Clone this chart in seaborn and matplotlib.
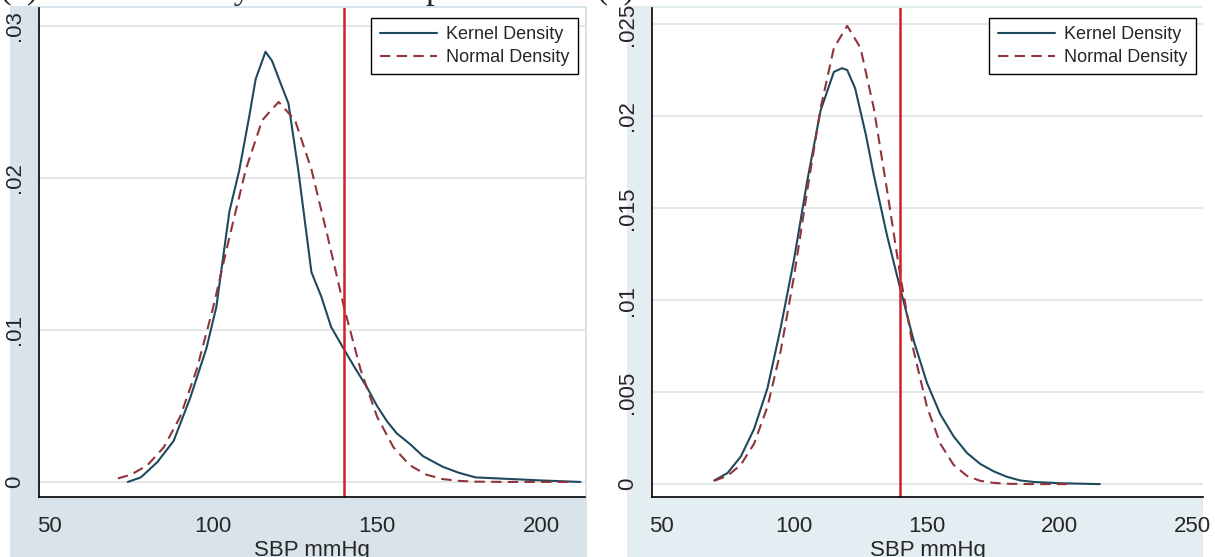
import numpy as np
import pandas as pd
import seaborn as sns
import matplotlib.pyplot as plt
from matplotlib.patches import Rectangle

# Painel (a): densidade kernel e normal
sbp_kern_a = [74, 78, 83, 88, 93, 98, 101, 105, 108, 111, 113, 116, 118, 121, 123,
              126, 130, 133, 136, 140, 143, 147, 150, 153, 156, 160, 164, 170, 175,
              180, 190, 200, 212]
dens_kern_a = [0.0, 0.0003, 0.0013, 0.0027, 0.0055, 0.0088, 0.0115, 0.0178, 0.0205,
               0.0240, 0.0265, 0.0283, 0.0277, 0.0260, 0.0249, 0.0205, 0.0138, 0.0122,
               0.0102, 0.0087, 0.0076, 0.0062, 0.0050, 0.0040, 0.0032, 0.0025, 0.0017,
               0.0010, 0.0006, 0.0003, 0.0002, 0.0001, 0.0]
sbp_norm_a = [71, 75, 80, 85, 90, 95, 100, 105, 110, 115, 120, 125, 130, 135, 140,
              145, 150, 155, 160, 165, 170, 175, 180, 190, 210]
dens_norm_a = [0.00023, 0.00048, 0.0011, 0.00228, 0.0043, 0.00738, 0.01144, 0.0161,
               0.02056, 0.0238, 0.0250, 0.0238, 0.02056, 0.0161, 0.01144, 0.00738,
               0.0043, 0.00228, 0.0011, 0.00048, 0.00019, 0.00007, 0.00002, 0.0, 0.0]

# Painel (b)
sbp_kern_b = [70, 75, 80, 85, 90, 95, 100, 105, 110, 115, 118, 120, 123, 127, 130,
              135, 140, 145, 150, 155, 160, 165, 170, 175, 180, 185, 190, 200, 215]
dens_kern_b = [0.0002, 0.0006, 0.0015, 0.0030, 0.0052, 0.0085, 0.0122, 0.0165, 0.0203,
               0.0224, 0.0226, 0.0225, 0.0215, 0.0190, 0.0168, 0.0135, 0.0106, 0.0078,
               0.0055, 0.0038, 0.0026, 0.0017, 0.0011, 0.0007, 0.0004, 0.0002, 0.00012,
               0.00005, 0.0]
sbp_norm_b = [70, 75, 80, 85, 90, 95, 100, 105, 110, 115, 120, 125, 130, 135, 140,
              145, 150, 155, 160, 165, 170, 175, 180, 190, 205]
dens_norm_b = [0.00018, 0.00045, 0.00105, 0.0022, 0.0042, 0.00724, 0.01129, 0.01596,
               0.02043, 0.0237, 0.0249, 0.0237, 0.02043, 0.01596, 0.01129, 0.00724,
               0.0042, 0.0022, 0.00105, 0.00045, 0.00018, 0.00007, 0.00002, 0.0, 0.0]

corte = 140  # linha vermelha

xticks_a = [50, 100, 150, 200]
xticks_b = [50, 100, 150, 200, 250]
yticks_a = [0, 0.01, 0.02, 0.03]
ylabels_a = ['0', '.01', '.02', '.03']
yticks_b = [0, 0.005, 0.01, 0.015, 0.02, 0.025]
ylabels_b = ['0', '.005', '.01', '.015', '.02', '.025']

sns.set_style('white')
plt.rcParams['font.family'] = ['Liberation Sans Narrow', 'Liberation Sans', 'DejaVu Sans']

fig = plt.figure(figsize=(12.15, 5.57), dpi=100)
W, H = 1215, 557

# fundo azul estilo Stata
fig.patches.append(Rectangle((10 / W, 0), 577 / W, 551 / H, transform=fig.transFigure,
                             facecolor='#d9e4ea', edgecolor='none', zorder=-5))
fig.patches.append(Rectangle((627 / W, 0), 576 / W, 551 / H, transform=fig.transFigure,
                             facecolor='#e4edf1', edgecolor='none', zorder=-5))

# legenda cortada no topo
fig.text(0, 559 / H, '(a) Kernel density and normal plot of SBP (a)', family='Liberation Serif',
         fontsize=25, va='baseline', ha='left', zorder=5)

ax1 = fig.add_axes([39 / W, 60 / H, 546 / W, 489 / H])
ax2 = fig.add_axes([652 / W, 60 / H, 551 / W, 489 / H])

paineis = [
    (ax1, sbp_kern_a, dens_kern_a, sbp_norm_a, dens_norm_a, xticks_a, yticks_a, ylabels_a,
     (46.95, 213.4), (-0.00099, 0.03118)),
    (ax2, sbp_kern_b, dens_kern_b, sbp_norm_b, dens_norm_b, xticks_b, yticks_b, ylabels_b,
     (46.6, 253.8), (-0.0007, 0.02587)),
]

for ax, xk, yk, xn, yn, xt, yt, yl, xlim, ylim in paineis:
    ax.set_facecolor('white')
    ax.yaxis.grid(True, color='#e3e7e9', lw=1.4)
    ax.set_axisbelow(True)
    sns.lineplot(x=xk, y=yk, ax=ax, color='#1f4a5e', lw=1.5, label='Kernel Density')
    sns.lineplot(x=xn, y=yn, ax=ax, color='#90353b', lw=1.5, label='Normal Density',
                 linestyle=(0, (5, 3)))
    ax.axvline(corte, color='#d0202a', lw=1.8)
    ax.set_xlim(xlim)
    ax.set_ylim(ylim)
    ax.set_xticks(xt)
    ax.set_yticks(yt)
    ax.set_yticklabels(yl, rotation=90, va='center')
    ax.tick_params(labelsize=16, length=8, width=1, direction='out', color='#333333')
    ax.tick_params(axis='x', pad=6)
    ax.tick_params(axis='y', pad=2)
    for s in ['top', 'right']:
        ax.spines[s].set_visible(False)
    for s in ['left', 'bottom']:
        ax.spines[s].set_color('black')
        ax.spines[s].set_linewidth(1.2)
    ax.set_xlabel('SBP mmHg', fontsize=16, labelpad=2)
    ax.set_ylabel('')
    leg = ax.legend(loc='upper right', bbox_to_anchor=(0.987, 0.98), fontsize=13,
                    handlelength=3.2, handletextpad=0.5, borderpad=0.45, labelspacing=0.35,
                    frameon=True, fancybox=False, framealpha=1, borderaxespad=0)
    leg.get_frame().set_edgecolor('black')
    leg.get_frame().set_linewidth(1.0)

plt.savefig('out.png', dpi=100)
